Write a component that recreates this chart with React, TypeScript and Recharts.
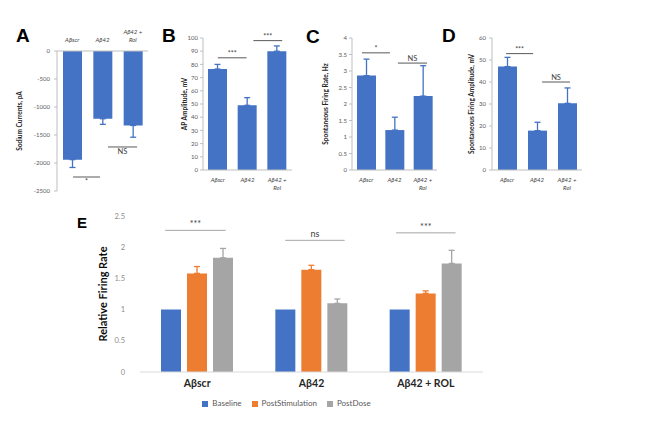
import React from 'react'
import {
  BarChart,
  Bar,
  XAxis,
  YAxis,
  ErrorBar,
  ReferenceLine,
  Legend
} from 'recharts'

// panels A-D share the same three groups
const smallCats = ['Aβscr', 'Aβ42', 'Aβ42 +\nRol']

const sodiumMeans = [-1940, -1210, -1330]
const sodiumErr = [140, 100, 210]
const sodiumTicks = [0, -500, -1000, -1500, -2000, -2500]

const apAmpMeans = [76.5, 49, 90]
const apAmpErr = [3.5, 5.8, 4]
const apAmpTicks = [0, 10, 20, 30, 40, 50, 60, 70, 80, 90, 100]

const rateMeans = [2.86, 1.21, 2.24]
const rateErr = [0.5, 0.39, 0.92]
const rateTicks = [0, 0.5, 1, 1.5, 2, 2.5, 3, 3.5, 4]

const spAmpMeans = [47, 17.9, 30.3]
const spAmpErr = [4.2, 3.8, 7]
const spAmpTicks = [0, 10, 20, 30, 40, 50, 60]

// panel E
const groupCats = ['Aβscr', 'Aβ42', 'Aβ42 + ROL']
const seriesNames = ['Baseline', 'PostStimulation', 'PostDose']
const baseline = [1, 1, 1]
const postStim = [1.58, 1.64, 1.26]
const postStimErr = [0.11, 0.07, 0.04]
const postDose = [1.83, 1.1, 1.74]
const postDoseErr = [0.15, 0.07, 0.21]
const relTicks = [0, 0.5, 1, 1.5, 2, 2.5]

// significance marks: x in group units (0..3), y in data units
const sigA = [
  { x1: 0.53, x2: 1.42, y: -2250, text: '*', pos: 'bottom' },
  { x1: 1.68, x2: 2.64, y: -1714, text: 'NS', pos: 'bottom' }
]
const sigB = [
  { x1: 0.5, x2: 1.47, y: 85, text: '***', pos: 'top' },
  { x1: 1.7, x2: 2.67, y: 98, text: '***', pos: 'top' }
]
const sigC = [
  { x1: 0.35, x2: 1.34, y: 3.55, text: '*', pos: 'top' },
  { x1: 1.62, x2: 2.65, y: 3.24, text: 'NS', pos: 'top' }
]
const sigD = [
  { x1: 0.47, x2: 1.37, y: 52.9, text: '***', pos: 'top' },
  { x1: 1.67, x2: 2.6, y: 40, text: 'NS', pos: 'top' }
]
const sigE = [
  { x1: 0.22, x2: 0.75, y: 2.27, text: '***', pos: 'top' },
  { x1: 1.27, x2: 1.79, y: 2.11, text: 'ns', pos: 'top' },
  { x1: 2.24, x2: 2.76, y: 2.23, text: '***', pos: 'top' }
]

const BLUE = '#4472C4'
const ORANGE = '#ED7D31'
const GRAY = '#A5A5A5'
const FONT = 'Lato, "Open Sans", sans-serif'

const CatTick = ({ x, y, payload, top }: any) => {
  const lines = String(payload.value).split('\n')
  return (
    <text x={x} y={y} textAnchor="middle" fontSize={6} fontStyle="italic" fill="#404040">
      {lines.map((l, i) => (
        <tspan
          key={i}
          x={x}
          y={top ? y - 9 - (lines.length - 1 - i) * 8 : y + 12 + i * 8}
        >
          {l}
        </tspan>
      ))}
    </text>
  )
}

function SmallPanel({
  means,
  errs,
  negative,
  ticks,
  domain,
  yLabel,
  sig,
  left,
  width,
  margin,
  yWidth,
  labelOffset,
  tickMargin
}: any) {
  const data = smallCats.map((c, i) => ({
    cat: c,
    pos: i + 0.5,
    v: means[i],
    err: negative ? [errs[i], 0] : [0, errs[i]]
  }))
  return (
    <div style={{ position: 'absolute', left, top: 20 }}>
      <BarChart width={width} height={180} data={data} margin={margin}>
        <XAxis
          dataKey="cat"
          orientation={negative ? 'top' : 'bottom'}
          height={negative ? 20 : 25}
          tickLine={false}
          tickSize={0}
          tickMargin={0}
          interval={0}
          axisLine={{ stroke: '#bfbfbf' }}
          tick={(p: any) => <CatTick {...p} top={negative} />}
        />
        {/* hidden numeric axis spanning the plot, places the significance bars */}
        <XAxis
          xAxisId="n"
          dataKey="pos"
          type="number"
          domain={[0, 3]}
          allowDataOverflow
          hide
        />
        <YAxis
          width={yWidth}
          domain={domain}
          ticks={ticks}
          interval={0}
          tickSize={3}
          tickMargin={tickMargin}
          axisLine={{ stroke: '#bfbfbf' }}
          tickLine={{ stroke: '#bfbfbf' }}
          tick={{ fontSize: 6, fill: '#595959' }}
          label={{
            value: yLabel,
            angle: -90,
            position: 'insideLeft',
            offset: labelOffset,
            style: { textAnchor: 'middle', fontSize: 6.5, fontWeight: 'bold', fill: '#262626' }
          }}
        />
        <Bar dataKey="v" fill={BLUE} barSize={19} isAnimationActive={false}>
          <ErrorBar dataKey="err" width={3} strokeWidth={1.3} stroke={BLUE} />
        </Bar>
        {sig.map((s: any, i: number) => (
          <ReferenceLine
            key={`sig-${i}`}
            xAxisId="n"
            ifOverflow="visible"
            segment={[
              { x: s.x1, y: s.y },
              { x: s.x2, y: s.y }
            ]}
            stroke="#595959"
            strokeWidth={1}
            label={{
              value: s.text,
              position: s.pos,
              offset: 2,
              fontSize: s.text === 'NS' ? 7.5 : 7,
              fill: '#404040'
            }}
          />
        ))}
      </BarChart>
    </div>
  )
}

export default function App() {
  const relData = groupCats.map((c, i) => ({
    cat: c,
    pos: i + 0.5,
    base: baseline[i],
    stim: postStim[i],
    stimErr: [0, postStimErr[i]],
    dose: postDose[i],
    doseErr: [0, postDoseErr[i]]
  }))

  return (
    <div
      style={{
        position: 'absolute',
        left: 0,
        top: 0,
        width: 669,
        height: 441,
        background: '#fff',
        fontFamily: FONT,
        overflow: 'hidden'
      }}
    >
      <SmallPanel
        means={sodiumMeans}
        errs={sodiumErr}
        negative
        ticks={sodiumTicks}
        domain={[-2500, 0]}
        yLabel="Sodium Currents, pA"
        sig={sigA}
        left={0}
        width={160}
        margin={{ top: 11, right: 12, bottom: 9, left: 12 }}
        yWidth={45}
        labelOffset={8}
        tickMargin={4}
      />
      <SmallPanel
        means={apAmpMeans}
        errs={apAmpErr}
        ticks={apAmpTicks}
        domain={[0, 100]}
        yLabel="AP Amplitude, mV"
        sig={sigB}
        left={160}
        width={145}
        margin={{ top: 18, right: 13, bottom: 5, left: 13 }}
        yWidth={30}
        labelOffset={12}
        tickMargin={2}
      />
      <SmallPanel
        means={rateMeans}
        errs={rateErr}
        ticks={rateTicks}
        domain={[0, 4]}
        yLabel="Spontaneous Firing Rate, Hz"
        sig={sigC}
        left={310}
        width={140}
        margin={{ top: 18, right: 13, bottom: 5, left: 12 }}
        yWidth={30}
        labelOffset={4}
        tickMargin={2}
      />
      <SmallPanel
        means={spAmpMeans}
        errs={spAmpErr}
        ticks={spAmpTicks}
        domain={[0, 60]}
        yLabel="Spontaneous Firing Amplitude, mV"
        sig={sigD}
        left={455}
        width={140}
        margin={{ top: 18, right: 13, bottom: 5, left: 7 }}
        yWidth={30}
        labelOffset={10}
        tickMargin={3}
      />

      <div style={{ position: 'absolute', left: 80, top: 200 }}>
        <BarChart
          width={420}
          height={220}
          data={relData}
          margin={{ top: 16, right: 17, bottom: 2, left: 20 }}
          barGap={6}
        >
          <XAxis
            dataKey="cat"
            height={26}
            tickLine={false}
            axisLine={{ stroke: '#d9d9d9' }}
            tickMargin={2}
            tick={{ fontSize: 10.5, fontWeight: 'bold', fill: '#262626' }}
          />
          <XAxis
            xAxisId="n"
            dataKey="pos"
            type="number"
            domain={[0, 3]}
            allowDataOverflow
            hide
          />
          <YAxis
            width={40}
            domain={[0, 2.5]}
            ticks={relTicks}
            interval={0}
            axisLine={false}
            tickLine={false}
            tickMargin={9}
            tick={{ fontSize: 7.5, fill: '#8c8c8c' }}
            label={{
              value: 'Relative Firing Rate',
              angle: -90,
              position: 'insideLeft',
              offset: 3,
              style: { textAnchor: 'middle', fontSize: 11, fontWeight: 'bold', fill: '#0d0d0d' }
            }}
          />
          <Bar dataKey="base" name={seriesNames[0]} fill={BLUE} barSize={20} isAnimationActive={false} />
          <Bar dataKey="stim" name={seriesNames[1]} fill={ORANGE} barSize={20} isAnimationActive={false}>
            <ErrorBar dataKey="stimErr" width={3} strokeWidth={1.3} stroke={ORANGE} />
          </Bar>
          <Bar dataKey="dose" name={seriesNames[2]} fill={GRAY} barSize={20} isAnimationActive={false}>
            <ErrorBar dataKey="doseErr" width={3} strokeWidth={1.3} stroke={GRAY} />
          </Bar>
          {sigE.map((s, i) => (
            <ReferenceLine
              key={`sigE-${i}`}
              xAxisId="n"
              ifOverflow="visible"
              segment={[
                { x: s.x1, y: s.y },
                { x: s.x2, y: s.y }
              ]}
              stroke="#a6a6a6"
              strokeWidth={1}
              label={{ value: s.text, position: s.pos as any, offset: 3, fontSize: 9, fill: '#404040' }}
            />
          ))}
          <Legend
            verticalAlign="bottom"
            height={20}
            iconType="square"
            iconSize={6}
            itemSorter={(item: any) => seriesNames.indexOf(item.value)}
            wrapperStyle={{ fontSize: 8 }}
            formatter={(v: any) => <span style={{ color: '#595959' }}>{v}</span>}
          />
        </BarChart>
      </div>

      <svg
        width={669}
        height={441}
        style={{ position: 'absolute', left: 0, top: 0, pointerEvents: 'none' }}
      >
        <g fontFamily='"Liberation Sans", Arial, sans-serif' fontWeight="bold" fill="#000">
          <text x={16} y={42} fontSize={19}>A</text>
          <text x={162} y={42} fontSize={19}>B</text>
          <text x={306} y={43} fontSize={19}>C</text>
          <text x={442} y={42} fontSize={19}>D</text>
          <text x={77} y={228} fontSize={15}>E</text>
        </g>
      </svg>
    </div>
  )
}
